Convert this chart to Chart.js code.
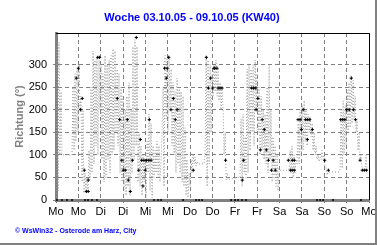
<!DOCTYPE html>
<html><head><meta charset="utf-8">
<script src="https://cdn.jsdelivr.net/npm/chart.js@4.4.0/dist/chart.umd.min.js"></script>
<style>
html,body{margin:0;padding:0;background:#fff;}
#wrap{position:relative;width:380px;height:245px;overflow:hidden;}
#c{position:absolute;left:0;top:0;}
.fr{position:absolute;background:#808080;}
</style></head><body>
<div id="wrap"><canvas id="c" width="380" height="245"></canvas>
<div class="fr" style="left:375px;top:0;width:2px;height:245px"></div>
<div class="fr" style="left:0;top:243px;width:377px;height:2px"></div>
</div>
<script>
const chartTitle = 'Woche 03.10.05 - 09.10.05 (KW40)';
const footerText = '© WsWin32 - Osterode am Harz, City';
const yAxisTitle = 'Richtung (°)';
const dayLabels = ['Mo','Mo','Di','Di','Mi','Mi','Do','Do','Fr','Fr','Sa','Sa','So','So','Mo'];

// wind direction samples: hours since Monday 00:00 and direction in degrees
const dirHours = [
  0,0.5,1.1,1.6,2.1,2.7,3.2,5.4,8.6,9.1,
  9.7,10.2,10.7,11.3,11.8,12.4,12.9,13.4,14.0,14.5,
  15.0,15.6,16.1,16.6,17.2,17.7,18.3,18.8,19.3,19.9,
  20.4,20.9,21.5,22.0,22.5,23.1,23.6,24.2,24.7,25.2,
  25.8,26.3,26.8,27.4,27.9,28.5,29.0,29.5,30.1,30.6,
  31.1,31.7,32.2,32.8,33.3,33.8,34.4,34.9,35.4,36.0,
  36.5,37.1,37.6,38.1,38.7,39.2,39.7,40.3,40.8,41.3,
  41.9,42.4,43.0,43.5,44.0,44.6,45.1,45.6,46.2,46.7,
  47.3,47.8,48.3,48.9,49.4,49.9,50.5,51.0,51.6,52.1,
  52.6,53.2,53.7,54.2,54.8,55.3,55.8,56.4,56.9,57.5,
  58.0,58.5,59.1,59.6,60.1,60.7,61.2,61.8,62.3,62.8,
  63.4,63.9,64.4,65.0,65.5,66.1,66.6,67.1,67.7,68.2,
  68.7,69.3,69.8,70.3,70.9,71.4,72.0,72.5,73.0,73.6,
  74.1,74.6,75.2,75.7,76.2,76.8,79.5,80.0,80.6,81.1,
  81.6,82.2,82.7,83.2,83.8,84.3,84.8,85.4,85.9,86.5,
  87.0,87.5,88.1,88.6,89.1,89.7,90.2,90.8,91.3,91.8,
  92.4,98.3,98.8,99.3,99.9,100.4,101.0,101.5,102.0,102.6,
  103.1,103.6,104.2,104.7,105.3,105.8,106.3,106.9,107.4,107.9,
  108.5,109.0,109.5,110.1,110.6,111.2,111.7,112.2,112.8,113.3,
  113.8,114.4,114.9,115.4,116.0,116.5,117.0,117.6,118.1,118.7,
  119.2,119.7,120.3,124.6,125.1,125.7,126.2,126.7,127.3,127.8,
  128.3,128.9,129.4,130.0,130.5,131.0,131.6,132.1,132.6,133.2,
  133.7,134.2,134.8,135.3,135.9,136.4,136.9,137.5,138.0,138.5,
  139.1,139.6,140.1,140.7,141.2,141.8,142.3,142.8,143.4,143.9,
  144.4,145.0,145.5,146.0,152.0,152.5,153.0,153.6,154.1,154.6,
  155.2,155.7,156.3,156.8,157.3,157.9,158.4,158.9,159.5,160.0,
  160.5,161.1,161.6,162.1,162.7,163.2,163.7,164.3,164.8,
  165.9,166.4,166.9,167.5
];
const dirValues = [
  0,340,20,350,100,240,100,100,100,250,
  110,280,130,290,150,300,200,230,40,200,
  15,60,15,50,20,110,45,250,60,330,
  80,310,120,315,100,310,200,300,90,280,
  40,320,50,300,90,310,60,320,100,335,
  110,330,150,290,120,280,60,250,40,230,
  20,200,10,230,30,260,10,200,60,340,
  90,355,120,340,40,150,30,120,10,100,
  40,90,5,130,60,190,20,170,5,120,
  50,110,60,130,50,120,40,90,150,250,
  30,320,180,315,150,320,200,290,120,260,
  100,240,60,270,80,250,60,240,40,230,
  30,160,10,90,5,60,30,90,60,100,
  80,95,75,85,80,80,80,100,320,30,
  310,80,300,150,280,230,300,240,310,230,
  290,220,260,200,250,200,100,150,45,60,
  45,50,50,180,30,190,60,140,50,290,
  60,300,110,290,150,300,120,310,200,280,
  150,250,100,230,110,200,90,190,80,250,
  60,300,90,200,40,140,50,120,30,100,
  20,70,66,66,70,110,60,120,50,100,
  60,90,80,170,80,200,100,210,110,220,
  130,200,120,190,150,185,140,170,110,150,
  100,120,90,100,85,95,90,110,90,100,
  75,70,55,62,62,70,200,70,220,100,
  210,120,240,150,260,160,275,170,265,180,
  230,150,180,110,150,90,100,70,66,
  66,100,70,66
];

// marked readings (black crosses)
const markHours = [
  10.9,12.0,13.2,14.1,15.2,16.3,17.3,17.3,22.4,23.4,
  32.9,34.2,35.3,36.1,37.2,38.3,38.8,39.9,41.0,43.1,
  44.4,45.3,46.0,46.7,47.2,47.9,48.5,49.8,50.1,51.0,
  58.3,59.2,59.7,60.5,61.7,63.0,64.0,65.0,73.7,80.7,
  81.8,83.0,84.1,84.8,85.3,86.4,87.0,88.0,89.1,91.0,
  100.0,100.7,105.0,106.0,107.2,107.4,108.4,109.7,110.7,111.8,
  112.9,114.0,115.6,116.6,117.7,124.7,125.8,126.8,126.8,127.9,
  127.9,129.9,131.0,131.7,132.7,134.0,134.9,135.1,136.2,137.6,
  144.2,146.2,152.8,153.9,155.0,156.0,157.4,158.5,159.6,160.7,
  163.2,164.4,165.5,166.6
];
const markValues = [
  270,292,200,225,66,19,44,19,316,316,
  225,178,88,66,66,178,44,19,88,360,
  66,134,88,31,88,66,88,88,178,88,
  292,270,292,316,200,225,178,200,66,316,
  248,270,248,292,292,292,248,248,248,88,
  44,88,248,248,248,200,225,111,178,156,
  111,88,66,88,66,88,66,88,66,88,
  66,178,178,156,200,178,134,178,178,156,
  88,66,178,178,178,200,200,270,200,178,
  88,66,66,66
];

// calm readings (0°)
const calmHours = [0.5,3.2,5.9,8.6,15.6,17.2,19.3,22.0,52.6,54.8,56.4,68.2,75.2,76.8,78.4,94.0,96.1,97.7,99.9,102.0,140.1,141.8,143.4,148.7,163.7];
const calmValues = [0,0,0,0,0,0,0,0,0,0,0,0,0,0,0,0,0,0,0,0,0,0,0,0,0];

const toXY = (hs, vs) => hs.map((h, i) => ({x: h, y: vs[i]}));

const frame = {
  id: 'frame',
  beforeDatasetsDraw(c) {
    const {ctx, chartArea: a} = c;
    ctx.save();
    ctx.strokeStyle = '#000';
    ctx.lineWidth = 1;
    ctx.beginPath();
    ctx.moveTo(a.left, Math.round(a.top) + 0.5);
    ctx.lineTo(Math.round(a.right) + 0.5, Math.round(a.top) + 0.5);
    ctx.lineTo(Math.round(a.right) + 0.5, a.bottom);
    ctx.stroke();
    ctx.restore();
  }
};

const F = 'Liberation Sans, Arial, sans-serif';
new Chart(document.getElementById('c'), {
  type: 'line',
  data: {
    datasets: [
      {label: 'Mittel', data: toXY(markHours, markValues), showLine: false,
       pointStyle: 'cross', pointRadius: 1.6, pointBorderColor: '#000', pointBorderWidth: 1,
       pointBackgroundColor: '#000', order: 1, clip: false},
      {label: 'Ruhe', data: toXY(calmHours, calmValues), showLine: false,
       pointStyle: 'cross', pointRadius: 1, pointBorderColor: '#000', pointBorderWidth: 1,
       order: 1, clip: false},
      {label: 'Richtung', data: toXY(dirHours, dirValues), borderColor: '#9a9a9a',
       borderWidth: 1, borderDash: [1, 2], pointRadius: 0, tension: 0, order: 2, fill: false}
    ]
  },
  options: {
    responsive: false,
    animation: false,
    events: [],
    layout: {padding: {left: 15, right: 11, top: 0, bottom: 0}},
    plugins: {
      legend: {display: false},
      tooltip: {enabled: false},
      title: {display: true, text: chartTitle, color: '#0000ff',
        font: {family: F, size: 11, weight: 'bold'}, padding: {top: 11.4, bottom: 8.4}},
      subtitle: {display: true, position: 'bottom', align: 'start', text: footerText, color: '#0000ff',
        font: {family: F, size: 7, weight: 'bold'}, padding: {top: 0, bottom: 10}}
    },
    scales: {
      x: {
        type: 'linear', min: 0, max: 168,
        afterFit: s => { s.height = 26.6; },
        ticks: {stepSize: 12, autoSkip: false, maxRotation: 0, color: '#000', padding: 2,
          font: {family: F, size: 11},
          callback: v => dayLabels[Math.round(v / 12)]},
        grid: {color: '#808080', lineWidth: 1, tickLength: 3, tickColor: '#808080', tickBorderDash: []},
        border: {color: '#808080', width: 3, dash: [4, 3]}
      },
      y: {
        min: 0, max: 370,
        afterFit: s => { s.width = 41; },
        afterBuildTicks: s => { s.ticks = s.ticks.filter(t => t.value % 50 === 0); },
        ticks: {stepSize: 50, color: '#000', padding: 6, font: {family: F, size: 11}},
        grid: {color: '#808080', lineWidth: 1, tickLength: 3, tickColor: '#808080', tickBorderDash: []},
        border: {color: '#808080', width: 3, dash: [4, 3]},
        title: {display: true, text: yAxisTitle, color: '#808080',
          font: {family: F, size: 11, weight: 'bold'}, padding: {top: -1.5, bottom: 0}}
      }
    }
  },
  plugins: [frame]
});
</script>
</body></html>
